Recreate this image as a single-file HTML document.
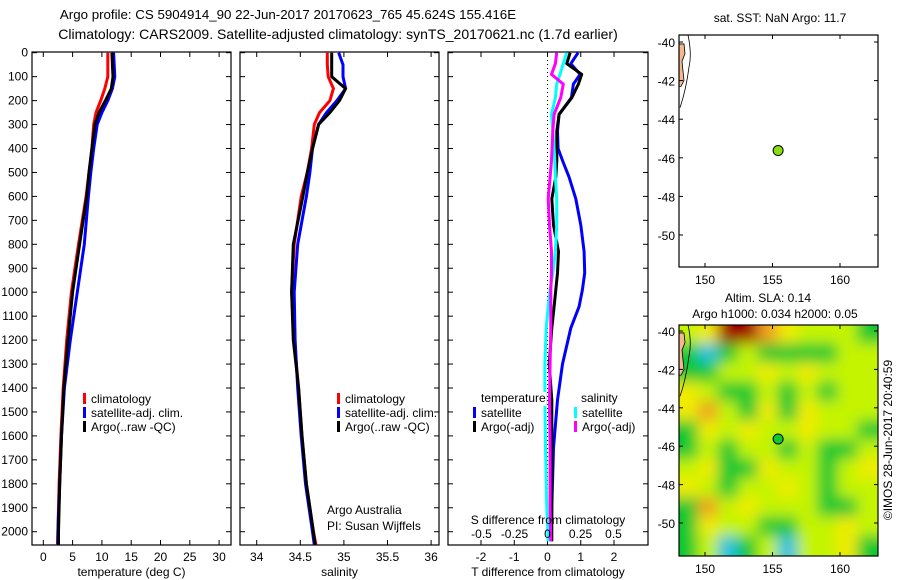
<!DOCTYPE html>
<html><head><meta charset="utf-8">
<style>
html,body{margin:0;padding:0;background:#fff;}
svg{display:block;font-family:"Liberation Sans",sans-serif;font-size:12px;}
</style></head>
<body>
<svg id="fig" width="900" height="580" viewBox="0 0 900 580" xmlns="http://www.w3.org/2000/svg">
<defs>
<clipPath id="cp1"><rect x="32" y="52" width="199" height="493"/></clipPath>
<clipPath id="cp2"><rect x="240" y="52" width="199" height="493"/></clipPath>
<clipPath id="cp3"><rect x="448" y="52" width="200" height="493"/></clipPath>
<clipPath id="cpm1"><rect x="679" y="35" width="199" height="232"/></clipPath>
<clipPath id="cpm2"><rect x="679" y="325" width="199" height="231"/></clipPath>
<filter id="blur" x="-10%" y="-10%" width="120%" height="120%"><feGaussianBlur stdDeviation="7"/></filter>
</defs>
<text x="288" y="19" text-anchor="middle" style="font-size:13.3px">Argo profile: CS 5904914_90 22-Jun-2017 20170623_765 45.624S 155.416E</text>
<text x="338" y="39" text-anchor="middle" style="font-size:14px">Climatology: CARS2009. Satellite-adjusted climatology: synTS_20170621.nc (1.7d earlier)</text>
<g id="p1"></g>
<g id="p2"></g>
<g id="p3"></g>
<g id="m1"></g>
<g id="m2"></g>
<text x="780" y="22" text-anchor="middle">sat. SST: NaN Argo: 11.7</text>
<text x="768" y="302" text-anchor="middle">Altim. SLA: 0.14</text>
<text x="775" y="318" text-anchor="middle">Argo h1000: 0.034 h2000: 0.05</text>
<text transform="translate(892,440) rotate(-90)" text-anchor="middle">©IMOS 28-Jun-2017 20:40:59</text>
</svg>
<script>
// ---------- data ----------
const depthLevels = [0,50,100,150,200,250,300,400,500,600,800,1000,1200,1400,1600,1800,2000,2055];
const tempClim  = [11,11,11,10.5,9.8,9,8.6,8.3,7.8,7.3,6,4.8,4,3.4,3,2.7,2.5,2.4];
const tempSat   = [12,12.1,12.2,11.8,11,10,9.2,8.6,8.1,7.7,7,5.8,4.6,3.6,3.1,2.8,2.5,2.5];
const tempArgo  = [11.7,11.8,11.9,11.6,10.6,9.5,8.8,8.3,7.8,7.4,6.2,5,4.2,3.5,3.1,2.8,2.6,2.6];
const salClim   = [34.81,34.81,34.82,34.88,34.84,34.72,34.66,34.63,34.58,34.51,34.43,34.40,34.43,34.48,34.52,34.57,34.65,34.68];
const salSat    = [34.94,34.99,34.99,35.02,34.92,34.80,34.71,34.64,34.61,34.57,34.47,34.43,34.44,34.47,34.51,34.56,34.64,34.66];
const salArgo   = [34.86,34.86,34.86,35.02,34.95,34.84,34.71,34.64,34.58,34.53,34.42,34.40,34.42,34.48,34.52,34.57,34.65,34.67];
const diffDepths = [0,46,90,131,188,257,327,400,450,520,610,720,830,920,990,1060,1150,1300,1450,1650,1900,2040];
const dTsat  = [0.92,0.7,0.98,0.78,0.72,0.35,0.3,0.32,0.45,0.65,0.85,1.0,1.1,1.12,1.05,0.95,0.7,0.45,0.3,0.18,0.13,0.11];
const dTargo = [0.68,0.58,1.03,0.93,0.73,0.35,0.28,0.28,0.28,0.25,0.13,0.18,0.33,0.3,0.25,0.2,0.13,0.05,0.13,0.13,0.13,0.13];
const dSsat  = [0.145,0.12,0.095,0.07,0.06,0.03,0.04,0.05,0.055,0.06,0.07,0.07,0.06,0.04,0.02,0.005,-0.01,-0.02,-0.02,-0.015,-0.005,0.005];
const dSargo = [0.07,0.06,0.03,0.12,0.1,0.05,0.04,0.035,0.03,0.02,0.005,0.015,0.03,0.03,0.025,0.025,0.025,0.02,0.015,0.02,0.02,0.025];
const depthTicks = [0,100,200,300,400,500,600,700,800,900,1000,1100,1200,1300,1400,1500,1600,1700,1800,1900,2000];
const tempTicks = [0,5,10,15,20,25,30];
const salTicks = ['34','34.5','35','35.5','36'];
const tdTicks = ['-2','-1','0','1','2'];
const sdTicks = ['-0.5','-0.25','0','0.25','0.5'];
const latTicks = [-40,-42,-44,-46,-48,-50];
const lonTicks = [150,155,160];
const argoLon = 155.416, argoLat = -45.624;
// SLA grid (0 cyan,1 green,2 yellow-green,3 yellow,4 orange,5 dark red), rows north->south
const slaRows = [
 [2,3,5,5,4,3,2,2,2,1],
 [1,0,1,2,1,1,1,1,2,2],
 [1,1,2,2,3,2,3,2,2,2],
 [3,2,1,1,2,1,2,1,2,2],
 [3,4,2,1,3,1,3,2,2,2],
 [1,3,2,3,2,2,3,2,2,1],
 [1,2,1,2,2,1,2,1,1,2],
 [2,3,1,1,3,2,2,1,2,3],
 [3,2,1,2,2,3,2,1,2,2],
 [1,4,2,3,2,2,2,1,1,2],
 [1,3,2,2,1,1,2,2,3,2],
 [1,2,0,1,2,0,2,2,3,1]
];
const slaColors = ['#20c0e0','#10c830','#c4f400','#f0ec00','#f0a020','#a00000'];

// ---------- helpers ----------
const NS='http://www.w3.org/2000/svg';
function mk(tag, parent, attrs){const e=document.createElementNS(NS,tag);for(const k in attrs)e.setAttribute(k,attrs[k]);parent.appendChild(e);return e;}
const Y = d => 52.7 + d*0.2395;
const PB = 545, PT = 52;

function panelFrame(g, x0, x1, xTicksPos, xTickLbls, xlabel, leftLabels){
  const r = mk('rect', g, {x:x0,y:PT,width:x1-x0,height:PB-PT,fill:'none',stroke:'#000','stroke-width':1.2});
  
  
  depthTicks.forEach(d=>{
    const y=Y(d);
    mk('line',g,{x1:x0,x2:x0+5,y1:y,y2:y,stroke:'#000'});
    mk('line',g,{x1:x1,x2:x1-5,y1:y,y2:y,stroke:'#000'});
    if(leftLabels){
      const t=mk('text',g,{x:x0-4,y:y+4,'text-anchor':'end'});
      t.textContent=d;
      
      
    }
  });
  xTicksPos.forEach((x,i)=>{
    mk('line',g,{x1:x,x2:x,y1:PT,y2:PT+5,stroke:'#000'});
    mk('line',g,{x1:x,x2:x,y1:PB,y2:PB-5,stroke:'#000'});
    const t=mk('text',g,{x:x,y:561,'text-anchor':'middle'});
    t.textContent=xTickLbls[i];
    
    
  });
  const xl=mk('text',g,{x:(x0+x1)/2,y:576,'text-anchor':'middle'});
  xl.textContent=xlabel;
  
  
}
function line(g, depths, vals, X, color, name, clip){
  const pts = depths.map((d,i)=>X(vals[i]).toFixed(1)+','+Y(d).toFixed(1)).join(' ');
  const p=mk('polyline',g,{points:pts,fill:'none',stroke:color,'stroke-width':3,'clip-path':'url(#'+clip+')','stroke-linejoin':'round'});
  
  
}
function legend(g, x, y, items){
  items.forEach((it,i)=>{
    const yy=y+i*14;
    mk('rect',g,{x:x,y:yy-5,width:3,height:11,fill:it[1]});
    const t=mk('text',g,{x:x+8,y:yy+5});
    t.textContent=it[0];
    
    
  });
}

// ---------- panel 1 ----------
const p1=document.getElementById('p1');
const XT = t => 43.3 + t*5.86;
panelFrame(p1,32,231,tempTicks.map(XT),tempTicks,'temperature (deg C)',true);
line(p1,depthLevels,tempClim,XT,'#f00','temp-climatology-line','cp1');
line(p1,depthLevels,tempSat,XT,'#00f','temp-satellite-line','cp1');
line(p1,depthLevels,tempArgo,XT,'#000','temp-argo-line','cp1');
legend(p1,83,398,[['climatology','#f00'],['satellite-adj. clim.','#00f'],['Argo(..raw -QC)','#000']]);

// ---------- panel 2 ----------
const p2=document.getElementById('p2');
const XS = s => 256.7 + (s-34)*87.2;
panelFrame(p2,240,439,salTicks.map(v=>XS(parseFloat(v))),salTicks,'salinity',false);
line(p2,depthLevels,salClim,XS,'#f00','sal-climatology-line','cp2');
line(p2,depthLevels,salSat,XS,'#00f','sal-satellite-line','cp2');
line(p2,depthLevels,salArgo,XS,'#000','sal-argo-line','cp2');
legend(p2,337,398,[['climatology','#f00'],['satellite-adj. clim.','#00f'],['Argo(..raw -QC)','#000']]);
[['Argo Australia',514],['PI: Susan Wijffels',530]].forEach(a=>{
  const t=mk('text',p2,{x:327,y:a[1]});t.textContent=a[0];
  
  
});

// ---------- panel 3 ----------
const p3=document.getElementById('p3');
const XD = t => 547.5 + t*33.25;
const XSD = s => 547.5 + s*132;
panelFrame(p3,448,648,tdTicks.map(v=>XD(parseFloat(v))),tdTicks,'T difference from climatology',false);
mk('line',p3,{x1:XD(0),x2:XD(0),y1:PT,y2:PB,stroke:'#000','stroke-dasharray':'1,3'});
line(p3,diffDepths,dTsat,XD,'#00f','t-diff-satellite-line','cp3');
line(p3,diffDepths,dTargo,XD,'#000','t-diff-argo-line','cp3');
line(p3,diffDepths,dSsat,XSD,'#0ff','s-diff-satellite-line','cp3');
line(p3,diffDepths,dSargo,XSD,'#f0f','s-diff-argo-line','cp3');
sdTicks.forEach(v=>{
  const t=mk('text',p3,{x:XSD(parseFloat(v)),y:538,'text-anchor':'middle'});
  t.textContent=v;
  
  
});
const sdl=mk('text',p3,{x:548,y:524,'text-anchor':'middle'});
sdl.textContent='S difference from climatology';


mk('rect',p3,{x:478,y:392,width:68,height:14,fill:'#fff'});
const lt=mk('text',p3,{x:481,y:402});lt.textContent='temperature';


const ls=mk('text',p3,{x:581,y:402});ls.textContent='salinity';


legend(p3,473,412,[['satellite','#00f'],['Argo(-adj)','#000']]);
legend(p3,574,412,[['satellite','#0ff'],['Argo(-adj)','#f0f']]);

// ---------- maps ----------
function mapAxes(g, top, bottom, lat40y, degPx, isSLA){
  const LX = lon => 705 + (lon-150)*13.5;
  const LY = lat => lat40y + (-40-lat)*degPx;
  if(isSLA){
    const rowsN = slaRows.length, colsN = slaRows[0].length;
    const cw = 199/colsN, rh = (bottom-top)/rowsN;
    const hg = mk('g', g, {'clip-path':'url(#cpm2)'});
    const bg = mk('g', hg, {filter:'url(#blur)'});
    slaRows.forEach((row,r)=>row.forEach((v,c)=>{
      const ex0 = c===0?15:1, ex1 = c===colsN-1?15:1, ey0 = r===0?15:1, ey1 = r===rowsN-1?15:1;
      const cell=mk('rect',bg,{x:679+c*cw-ex0,y:top+r*rh-ey0,width:cw+ex0+ex1,height:rh+ey0+ey1,fill:slaColors[v]});
      
      
    }));
  }
  const clip = isSLA ? 'cpm2' : 'cpm1';
  mk('path',g,{d:`M679 ${LY(-40.1)} L684 ${LY(-40.1)} L685 ${LY(-40.6)} L682 ${LY(-41)} L684 ${LY(-42)} L681 ${LY(-42.3)} L679 ${LY(-42.3)} Z`,fill:'#f4b890',stroke:'#000','stroke-width':0.8,'clip-path':'url(#'+clip+')'});
  mk('path',g,{d:`M688 ${top} Q692 ${LY(-40.6)} 689 ${LY(-41.3)} Q686 ${LY(-42.5)} 680 ${LY(-43.4)}`,fill:'none',stroke:'#000','stroke-width':0.8});
  const fr=mk('rect',g,{x:679,y:top,width:199,height:bottom-top,fill:'none',stroke:'#000','stroke-width':1.2});
  
  
  latTicks.forEach(l=>{
    const y=LY(l);
    mk('line',g,{x1:679,x2:683,y1:y,y2:y,stroke:'#000'});
    mk('line',g,{x1:878,x2:874,y1:y,y2:y,stroke:'#000'});
    const t=mk('text',g,{x:675,y:y+5,'text-anchor':'end'});
    t.textContent=l;
    
    
  });
  lonTicks.forEach(l=>{
    const x=LX(l);
    mk('line',g,{x1:x,x2:x,y1:top,y2:top+4,stroke:'#000'});
    mk('line',g,{x1:x,x2:x,y1:bottom,y2:bottom-4,stroke:'#000'});
    const t=mk('text',g,{x:x,y:bottom+17,'text-anchor':'middle'});
    t.textContent=l;
    
    
  });
  const dot=mk('circle',g,{cx:LX(argoLon),cy:LY(argoLat),r:5,fill:isSLA?'#10c830':'#88e010',stroke:'#000','stroke-width':1});
  
  
}
mapAxes(document.getElementById('m1'),35,267,42,19.3,false);
mapAxes(document.getElementById('m2'),325,556,331,19.2,true);
</script>
</body></html>
